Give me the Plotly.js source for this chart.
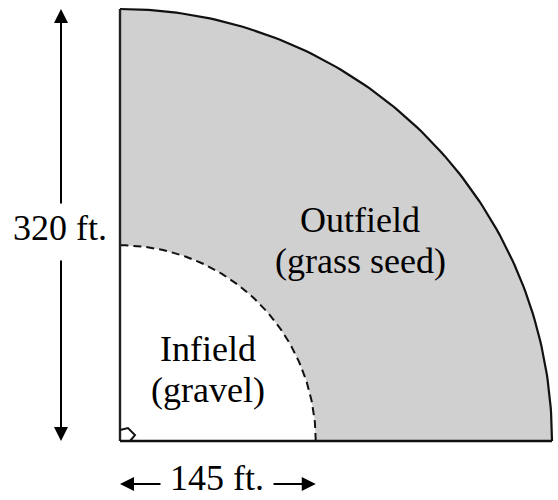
<!DOCTYPE html>
<html>
<head>
<meta charset="utf-8">
<script src="https://cdn.plot.ly/plotly-3.0.1.min.js"></script>
<style>html,body{margin:0;padding:0;background:#fff;}#chart{width:558px;height:500px;}</style>
</head>
<body>
<div id="chart"></div>
<script>
// ---- data ----
const outerRadius = [320];           // ft
const innerRadius = [145];           // ft
const dimensionLabels = ['320 ft.', '145 ft.'];
const regionLines = ['Outfield', '(grass seed)', 'Infield', '(gravel)'];

// ---- geometry built from the data ----
const R = outerRadius[0], r = innerRadius[0];
const N = 120;
function arc(rad, from, to) {
  const xs = [], ys = [];
  for (let i = 0; i <= N; i++) {
    const t = from + (to - from) * i / N;
    xs.push(rad * Math.cos(t)); ys.push(rad * Math.sin(t));
  }
  return {xs, ys};
}
const outerArc = arc(R, 0, Math.PI / 2);
const innerArc = arc(r, Math.PI / 2, 0);

const ringX = outerArc.xs.concat(innerArc.xs, [outerArc.xs[0]]);
const ringY = outerArc.ys.concat(innerArc.ys, [outerArc.ys[0]]);

const innerDash = arc(r, 0, Math.PI / 2);

const traces = [
  {x: ringX, y: ringY, mode: 'lines', fill: 'toself', fillcolor: '#d0d0d0',
   line: {width: 0, color: 'rgba(0,0,0,0)'}, hoverinfo: 'skip'},
  {x: outerArc.xs, y: outerArc.ys, mode: 'lines', line: {color: '#111', width: 2.2}, hoverinfo: 'skip'},
  {x: innerDash.xs, y: innerDash.ys, mode: 'lines', line: {color: '#111', width: 2, dash: '8px,5px'}, hoverinfo: 'skip'},
  {x: [0, 0], y: [0, R], mode: 'lines', line: {color: '#222', width: 2.4}, hoverinfo: 'skip'},
  {x: [0, R], y: [0, 0], mode: 'lines', line: {color: '#111', width: 2.4}, hoverinfo: 'skip'},
  // right-angle marker
  {x: [0, 5.9, 11.1, 7.4], y: [8.1, 9.6, 4.4, 0], mode: 'lines', line: {color: '#111', width: 2}, hoverinfo: 'skip'}
];

const font = {family: '"Liberation Serif", "Times New Roman", serif', size: 36, color: '#000'};
const ax = -43.7;   // vertical dimension line position (ft)
const ay = -31.9;   // horizontal dimension line position (ft)

function arrow(x, y, tx, ty) {
  return {x: x, y: y, ax: tx, ay: ty, xref: 'x', yref: 'y', axref: 'x', ayref: 'y',
          text: '', showarrow: true, arrowhead: 2, arrowsize: 1.4, arrowwidth: 2,
          arrowcolor: '#000', standoff: 0, startstandoff: 0};
}
function label(text, x, y) {
  return {x: x, y: y, xref: 'x', yref: 'y', text: text, showarrow: false,
          font: font, xanchor: 'center', yanchor: 'middle', borderpad: 0};
}

const annotations = [
  arrow(ax, R, ax, 174.8),
  arrow(ax, 0, ax, 134.8),
  arrow(0, ay, 31.1, ay),
  arrow(r, ay, 112.6, ay),
  label(dimensionLabels[0], -44.4, 157.8),
  label(dimensionLabels[1], 71.9, -27.5),
  label(regionLines[0], 177.8, 163.7),
  label(regionLines[1], 178.5, 133.3),
  label(regionLines[2], 65.2, 68.1),
  label(regionLines[3], 65.2, 37.8)
];

const scale = 1.35; // px per ft
const layout = {
  width: 558, height: 500,
  margin: {l: 0, r: 0, t: 0, b: 0, pad: 0},
  paper_bgcolor: '#fff', plot_bgcolor: '#fff',
  showlegend: false,
  xaxis: {range: [-120 / scale, 438 / scale], visible: false, fixedrange: true},
  yaxis: {range: [(441 - 500) / scale, 441 / scale], visible: false, fixedrange: true},
  annotations: annotations
};

Plotly.newPlot('chart', traces, layout, {staticPlot: true, displayModeBar: false});
</script>
</body>
</html>
